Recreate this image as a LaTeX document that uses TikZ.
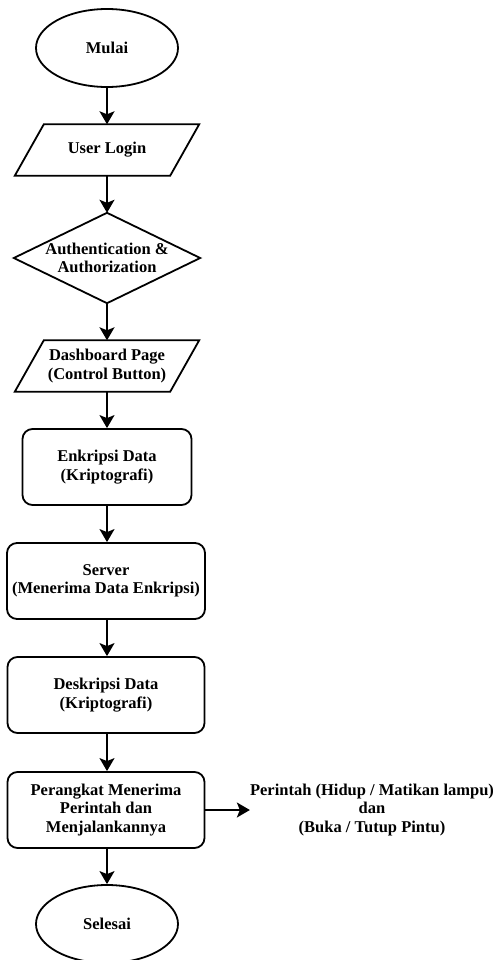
\documentclass[tikz,border=0pt]{standalone}
\usepackage{fontspec}
\setmainfont{Liberation Serif}
\usetikzlibrary{shapes.geometric,arrows.meta}
\tikzset{
  every node/.style={font=\fontsize{16.5}{18.3}\selectfont\bfseries, align=center, inner sep=0pt},
  line/.style={line width=1.8pt},
  conn/.style={line, -{Stealth[length=13pt,width=15pt,inset=3pt]}},
  terminal/.style={ellipse, draw, line width=1.8pt, minimum width=142pt, minimum height=78pt},
  procbox/.style={rectangle, draw, line width=1.8pt, rounded corners=10pt, minimum height=76pt},
  plainbox/.style={rectangle, minimum height=51pt, minimum width=155pt},
}
\begin{document}
\begin{tikzpicture}[x=1pt,y=-1pt]
\useasboundingbox (0,0) rectangle (497,960);
\node[terminal] (start) at (107,48) {Mulai};
\node[plainbox] (login) at (107,150) {User Login};
\draw[line] ([xshift=-14.5pt]login.south west) -- ([xshift=-14.5pt]login.south east)
  -- ([xshift=14.5pt]login.north east) -- ([xshift=14.5pt]login.north west) -- cycle;
\node[minimum width=186pt, minimum height=90pt] (auth) at (107,258) {Authentication \&\\Authorization};
\draw[line] (auth.north) -- (auth.east) -- (auth.south) -- (auth.west) -- cycle;
\node[plainbox] (dash) at (107,366) {Dashboard Page\\(Control Button)};
\draw[line] ([xshift=-14.5pt]dash.south west) -- ([xshift=-14.5pt]dash.south east)
  -- ([xshift=14.5pt]dash.north east) -- ([xshift=14.5pt]dash.north west) -- cycle;
\node[procbox, minimum width=169pt] (enc) at (107,467) {Enkripsi Data\\(Kriptografi)};
\node[procbox, minimum width=198pt] (server) at (106,581) {Server\\(Menerima Data Enkripsi)};
\node[procbox, minimum width=197pt] (dec) at (106,695) {Deskripsi Data\\(Kriptografi)};
\node[procbox, minimum width=197pt] (dev) at (106,810) {Perangkat Menerima\\Perintah dan\\Menjalankannya};
\node[terminal] (stop) at (107,924) {Selesai};
\node (cmd) at (372,810) {Perintah (Hidup / Matikan lampu)\\dan\\(Buka / Tutup Pintu)};
\draw[conn] (start) -- (login.north);
\draw[conn] (login.south) -- (auth.north);
\draw[conn] (auth.south) -- (dash.north);
\draw[conn] (dash.south) -- (dash.south |- enc.north);
\draw[conn] (enc.south) -- (enc.south |- server.north);
\draw[conn] (enc.south |- server.south) -- (enc.south |- dec.north);
\draw[conn] (enc.south |- dec.south) -- (enc.south |- dev.north);
\draw[conn] (enc.south |- dev.south) -- (stop);
\draw[conn] (dev.east) -- (cmd.west);
\end{tikzpicture}
\end{document}
